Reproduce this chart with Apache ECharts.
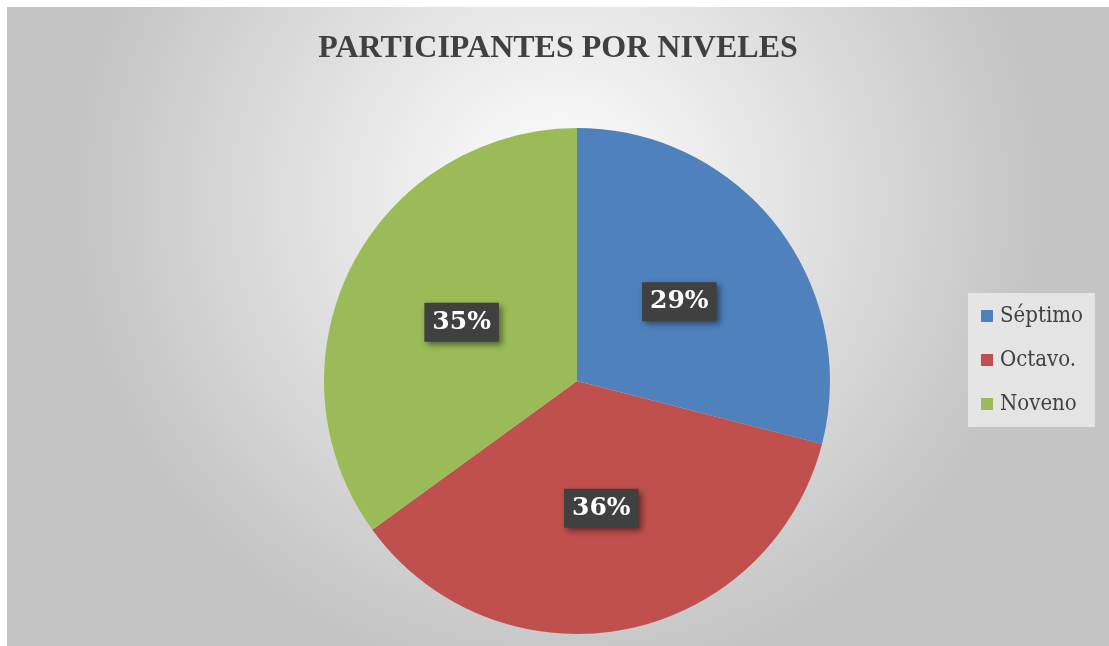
<!DOCTYPE html>
<html>
<head>
<meta charset="utf-8">
<script src="https://cdn.jsdelivr.net/npm/echarts@6/dist/echarts.min.js"></script>
<style>
html,body{margin:0;padding:0;background:#fff;}
#c{position:absolute;left:7px;top:7px;width:1102px;height:639px;}
</style>
</head>
<body>
<div id="c"></div>
<script>
const categories = ["Séptimo", "Octavo.", "Noveno"];
const values = [29, 36, 35];
const colors = ["#4f81bd", "#c0504d", "#9bbb59"];

const chart = echarts.init(document.getElementById('c'));
chart.setOption({
  backgroundColor: {
    type: 'radial', x: 0.5, y: 0.3, r: 0.75,
    colorStops: [{offset: 0, color: '#ffffff'}, {offset: 1, color: '#c4c4c4'}]
  },
  title: {
    text: 'PARTICIPANTES POR NIVELES',
    left: 'center', top: 21,
    textStyle: {fontFamily: "Liberation Serif", fontWeight: 'bold', fontSize: 32, color: '#404040'}
  },
  legend: {
    orient: 'vertical',
    left: 961, top: 286,
    itemWidth: 12, itemHeight: 12, itemGap: 22,
    padding: [12, 12, 12, 13],
    backgroundColor: 'rgba(232,232,232,0.9)',
    icon: 'rect',
    textStyle: {fontFamily: "'DejaVu Serif Condensed', 'DejaVu Serif', serif", fontSize: 22, color: '#404040', padding: [0, 0, 0, 2]},
    data: categories
  },
  series: [{
    type: 'pie',
    center: [570, 374],
    radius: 253,
    startAngle: 90,
    clockwise: true,
    silent: true,
    label: {
      show: true,
      position: 'inside',
      formatter: p => Math.round(p.percent) + '%',
      fontFamily: "'DejaVu Serif', serif",
      fontWeight: 'bold',
      fontSize: 25,
      color: '#ffffff',
      backgroundColor: '#404040',
      padding: [8, 8, 6, 8],
      shadowColor: 'rgba(0,0,0,0.45)',
      shadowBlur: 6,
      shadowOffsetX: 3,
      shadowOffsetY: 3
    },
    labelLine: {show: false},
    itemStyle: {borderWidth: 0},
    data: categories.map((n, i) => ({name: n, value: values[i], itemStyle: {color: colors[i]}}))
  }]
});
</script>
</body>
</html>
